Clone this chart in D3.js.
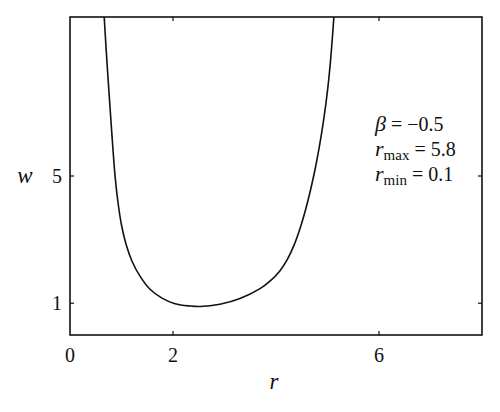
<!DOCTYPE html>
<html>
<head>
<meta charset="utf-8">
<script src="https://cdn.jsdelivr.net/npm/d3@7"></script>
<style>
  body { margin: 0; background: #fff; }
  text { font-family: "Liberation Serif", "DejaVu Serif", serif; fill: #111; }
</style>
</head>
<body>
<script>
// curve
const rValues = [0.664, 0.699, 0.742, 0.786, 0.831, 0.880, 0.936, 1.000, 1.087, 1.204, 1.359, 1.553, 1.786, 2.039, 2.330, 2.524,
  2.913, 3.301, 3.689, 3.883, 4.078, 4.223, 4.359, 4.476, 4.583, 4.675, 4.760, 4.841, 4.928, 5.004, 5.062, 5.124];
const wValues = [10.0, 9.06, 7.99, 6.95, 5.91, 4.91, 4.12, 3.46, 2.86, 2.32, 1.85, 1.44, 1.16, 0.984, 0.912, 0.896,
  0.969, 1.148, 1.457, 1.693, 2.024, 2.386, 2.858, 3.394, 3.992, 4.591, 5.220, 5.913, 6.795, 7.740, 8.685, 10.0];
const xTicks = [0, 2, 6];
const yTicks = [1, 5];
const notes = [
  {sym: "β", sub: "", val: " = −0.5"},
  {sym: "r", sub: "max", val: " = 5.8"},
  {sym: "r", sub: "min", val: " = 0.1"}
];

const width = 500, height = 412;
const margin = {left: 70, right: 18, top: 17, bottom: 77};

const x = d3.scaleLinear().domain([0, 8]).range([margin.left, width - margin.right]);
const y = d3.scaleLinear().domain([0, 10]).range([height - margin.bottom, margin.top]);

const svg = d3.select("body").append("svg")
  .attr("width", width)
  .attr("height", height);

svg.append("clipPath").attr("id", "clip")
  .append("rect")
  .attr("x", x(0)).attr("y", y(10))
  .attr("width", x(8) - x(0)).attr("height", y(0) - y(10));

const data = rValues.map((r, i) => ({r: r, w: wValues[i]}));

svg.append("path")
  .datum(data)
  .attr("clip-path", "url(#clip)")
  .attr("fill", "none")
  .attr("stroke", "#111")
  .attr("stroke-width", 1.6)
  .attr("d", d3.line().x(d => x(d.r)).y(d => y(d.w)).curve(d3.curveCatmullRom.alpha(0.5)));

// frame
svg.append("rect")
  .attr("x", x(0)).attr("y", y(10))
  .attr("width", x(8) - x(0)).attr("height", y(0) - y(10))
  .attr("fill", "none")
  .attr("stroke", "#111")
  .attr("stroke-width", 1.6);

// inside ticks, mirrored
const tickLen = 4;
const tk = svg.append("g").attr("stroke", "#111").attr("stroke-width", 1.2);
xTicks.filter(t => t > 0).forEach(t => {
  tk.append("line").attr("x1", x(t)).attr("x2", x(t)).attr("y1", y(0)).attr("y2", y(0) - tickLen);
  tk.append("line").attr("x1", x(t)).attr("x2", x(t)).attr("y1", y(10)).attr("y2", y(10) + tickLen);
});
yTicks.forEach(t => {
  tk.append("line").attr("x1", x(0)).attr("x2", x(0) + tickLen).attr("y1", y(t)).attr("y2", y(t));
  tk.append("line").attr("x1", x(8)).attr("x2", x(8) - tickLen).attr("y1", y(t)).attr("y2", y(t));
});

svg.selectAll(".xt")
  .data(xTicks)
  .enter()
  .append("text")
  .attr("x", d => x(d))
  .attr("y", y(0) + 27)
  .attr("text-anchor", "middle")
  .style("font-size", "20px")
  .text(d => d);

svg.selectAll(".yt")
  .data(yTicks)
  .enter()
  .append("text")
  .attr("x", x(0) - 8)
  .attr("y", d => y(d) + 7)
  .attr("text-anchor", "end")
  .style("font-size", "20px")
  .text(d => d);

svg.append("text")
  .attr("x", 25).attr("y", y(5) + 7)
  .attr("text-anchor", "middle")
  .style("font-size", "23px").style("font-style", "italic")
  .text("w");

svg.append("text")
  .attr("x", x(4) - 2).attr("y", 389)
  .attr("text-anchor", "middle")
  .style("font-size", "23px").style("font-style", "italic")
  .text("r");

// parameter note
const note = svg.append("g");
notes.forEach((n, i) => {
  const t = note.append("text")
    .attr("x", 375).attr("y", 131 + i * 25)
    .style("font-size", "20px");
  t.append("tspan").style("font-style", "italic").style("font-size", "22px").text(n.sym);
  if (n.sub) t.append("tspan").attr("dy", 4).style("font-size", "15px").text(n.sub);
  t.append("tspan").attr("dy", n.sub ? -4 : 0).text(n.val);
});
</script>
</body>
</html>
